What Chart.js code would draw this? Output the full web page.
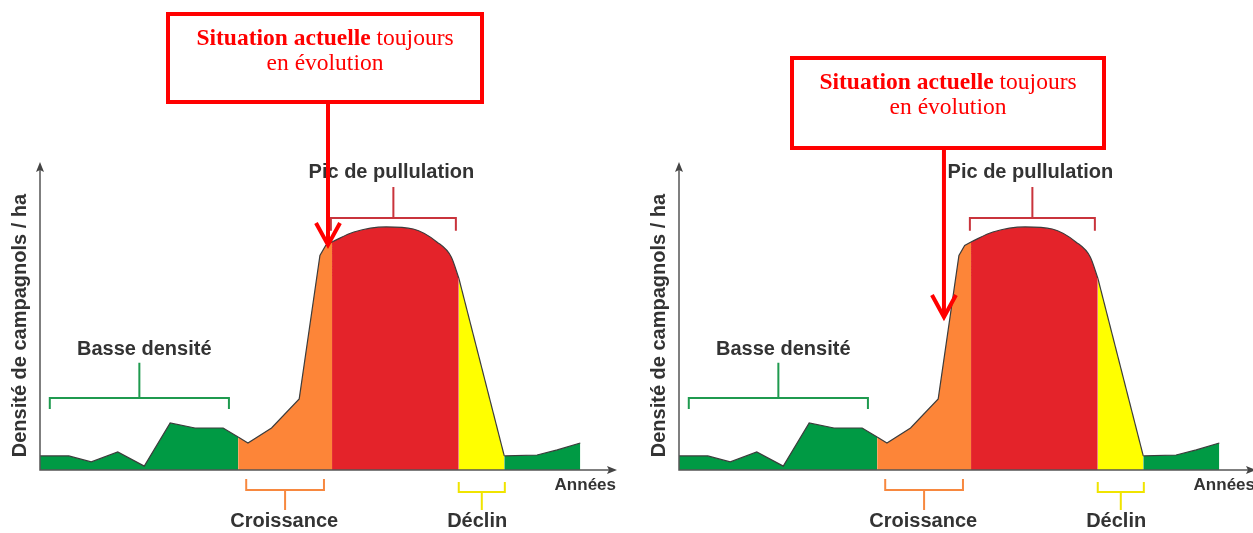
<!DOCTYPE html>
<html lang="fr">
<head>
<meta charset="utf-8">
<title>Cycle de pullulation du campagnol</title>
<script src="https://cdn.jsdelivr.net/npm/chart.js@4"></script>
<style>
  html, body { margin: 0; background: #fff; overflow: hidden; }
  #wrap { position: relative; width: 1253px; height: 533px; overflow: hidden; }
  #chart-left { position: absolute; left: 0; top: 0; }
  #chart-right { position: absolute; left: 639px; top: 0; }
</style>
</head>
<body>
<div id="wrap">
  <canvas id="chart-left" width="639" height="533"></canvas>
  <canvas id="chart-right" width="639" height="533"></canvas>
</div>
<script>
// années (unités arbitraires) et densité relative, une paire par phase du cycle
const lowYears = [0, 5, 8.9, 13.5, 18.1, 22.6, 26.9, 31.8, 34.4];
const lowDensity = [4.7, 4.7, 2.7, 6, 1.3, 15.7, 14, 14, 11];
const growthYears = [34.4, 36.1, 40.2, 45, 48.6, 49.6, 50.7];
const growthDensity = [11, 9, 14, 23.7, 71.5, 74.8, 76];
const peakYears = [50.7, 54.5, 60.1, 64.8, 68.9, 71.4, 72.7];
const peakDensity = [76, 79.3, 81, 80.3, 76, 71, 64];
const declineYears = [72.7, 80.6];
const declineDensity = [64, 4.7];
const lateYears = [80.6, 86.3, 89.8, 93.8];
const lateDensity = [4.7, 5, 6.7, 9];

const phaseLabels = ["Basse densité", "Croissance", "Pic de pullulation", "Déclin"];
const axisTitle = "Densité de campagnols / ha";
const xTitle = "Années";

const SANS = "'Liberation Sans', Arial, sans-serif";
const SERIF = "'Liberation Serif', 'Times New Roman', serif";

function phase(xs, ys, color, tension) {
  return {
    data: xs.map((x, i) => ({ x, y: ys[i] })),
    backgroundColor: color,
    borderColor: "#3c3c3c",
    borderWidth: 1.2,
    fill: "origin",
    pointRadius: 0,
    tension: tension || 0,
    cubicInterpolationMode: tension ? "monotone" : "default",
  };
}

function bracket(ctx, x, y, b) {
  const x0 = x.getPixelForValue(b.from);
  const x1 = x.getPixelForValue(b.to);
  const mid = (x0 + x1) / 2;
  ctx.strokeStyle = b.color;
  ctx.lineWidth = 2;
  ctx.beginPath();
  ctx.moveTo(x0, y.getPixelForValue(b.end));
  ctx.lineTo(x0, y.getPixelForValue(b.bar));
  ctx.lineTo(x1, y.getPixelForValue(b.bar));
  ctx.lineTo(x1, y.getPixelForValue(b.end));
  ctx.moveTo(mid, y.getPixelForValue(b.bar));
  ctx.lineTo(mid, y.getPixelForValue(b.stem));
  ctx.stroke();
}

const overlay = {
  id: "overlay",
  afterDatasetsDraw(chart, args, opts) {
    const { ctx, chartArea: a, scales: { x, y } } = chart;
    ctx.save();

    // axes avec flèches
    ctx.strokeStyle = "#555";
    ctx.fillStyle = "#444";
    ctx.lineWidth = 1.5;
    ctx.beginPath();
    ctx.moveTo(a.left, a.top + 4);
    ctx.lineTo(a.left, a.bottom);
    ctx.lineTo(a.right - 4, a.bottom);
    ctx.stroke();
    ctx.beginPath();
    ctx.moveTo(a.left, a.top - 1);
    ctx.lineTo(a.left - 4, a.top + 9);
    ctx.lineTo(a.left, a.top + 7);
    ctx.lineTo(a.left + 4, a.top + 9);
    ctx.closePath();
    ctx.moveTo(a.right + 1, a.bottom);
    ctx.lineTo(a.right - 9, a.bottom - 4);
    ctx.lineTo(a.right - 7, a.bottom);
    ctx.lineTo(a.right - 9, a.bottom + 4);
    ctx.closePath();
    ctx.fill();

    // titres des axes
    ctx.fillStyle = "#333";
    ctx.font = "bold 20px " + SANS;
    ctx.textAlign = "center";
    ctx.textBaseline = "middle";
    ctx.save();
    ctx.translate(a.left - 20, (a.top + a.bottom) / 2 + 9);
    ctx.rotate(-Math.PI / 2);
    ctx.fillText(axisTitle, 0, 0);
    ctx.restore();
    ctx.font = "bold 17px " + SANS;
    ctx.textAlign = "right";
    ctx.fillText(xTitle, a.right, a.bottom + 15);

    // accolades et noms des phases
    opts.brackets.forEach((b, i) => {
      bracket(ctx, x, y, b);
      ctx.fillStyle = "#333";
      ctx.font = "bold 20px " + SANS;
      ctx.textAlign = "center";
      ctx.fillText(phaseLabels[i], x.getPixelForValue(b.labelX), y.getPixelForValue(b.labelY));
    });

    // encadré "Situation actuelle"
    const c = opts.callout;
    ctx.strokeStyle = "#ff0000";
    ctx.lineWidth = 4;
    ctx.strokeRect(c.left + 2, c.top + 2, c.width - 4, c.height - 4);
    ctx.fillStyle = "#ff0000";
    ctx.textBaseline = "alphabetic";
    ctx.textAlign = "left";
    const bold = "bold 23.5px " + SERIF;
    const reg = "23.5px " + SERIF;
    ctx.font = bold;
    const w1 = ctx.measureText("Situation actuelle").width;
    ctx.font = reg;
    const w2 = ctx.measureText(" toujours").width;
    const cx = c.left + c.width / 2;
    const tx = cx - (w1 + w2) / 2;
    ctx.font = bold;
    ctx.fillText("Situation actuelle", tx, c.top + 33);
    ctx.font = reg;
    ctx.fillText(" toujours", tx + w1, c.top + 33);
    ctx.textAlign = "center";
    ctx.fillText("en évolution", cx, c.top + 58);

    const ax = x.getPixelForValue(c.arrowX);
    const ay = y.getPixelForValue(c.arrowY);
    ctx.lineWidth = 4;
    ctx.beginPath();
    ctx.moveTo(ax, c.top + c.height);
    ctx.lineTo(ax, ay - 2);
    ctx.stroke();
    ctx.beginPath();
    ctx.moveTo(ax - 12, ay - 22);
    ctx.lineTo(ax, ay);
    ctx.lineTo(ax + 12, ay - 22);
    ctx.stroke();

    ctx.restore();
  },
};

const phaseBrackets = [
  { from: 1.7, to: 32.8, bar: 24, end: 20.3, stem: 35.7, labelX: 18.1, labelY: 40.3, color: "#1f9a4f" },
  { from: 35.8, to: 49.3, bar: -6.7, end: -3, stem: -13.3, labelX: 42.4, labelY: -17.3, color: "#f7883f" },
  { from: 50.5, to: 72.2, bar: 84, end: 79.7, stem: 94.3, labelX: 61, labelY: 99.3, color: "#c9343c" },
  { from: 72.7, to: 80.7, bar: -7.3, end: -4, stem: -13.3, labelX: 75.9, labelY: -17.3, color: "#f0e400" },
];

function makeChart(id, callout) {
  new Chart(document.getElementById(id), {
    type: "line",
    data: {
      datasets: [
        phase(lowYears, lowDensity, "#009a44"),
        phase(growthYears, growthDensity, "#fd8538"),
        phase(peakYears, peakDensity, "#e4232a", 0.4),
        phase(declineYears, declineDensity, "#ffff00"),
        phase(lateYears, lateDensity, "#009a44"),
      ],
    },
    options: {
      responsive: false,
      animation: false,
      layout: { padding: { left: 40, right: 23, top: 163, bottom: 63 } },
      scales: {
        x: { type: "linear", min: 0, max: 100, display: false },
        y: { min: 0, max: 102.3, display: false },
      },
      plugins: {
        legend: { display: false },
        tooltip: { enabled: false },
        overlay: { brackets: phaseBrackets, callout },
      },
    },
    plugins: [overlay],
  });
}

makeChart("chart-left", { left: 166, top: 12, width: 318, height: 92, arrowX: 50, arrowY: 75 });
makeChart("chart-right", { left: 151, top: 56, width: 316, height: 94, arrowX: 46, arrowY: 51 });
</script>
</body>
</html>
